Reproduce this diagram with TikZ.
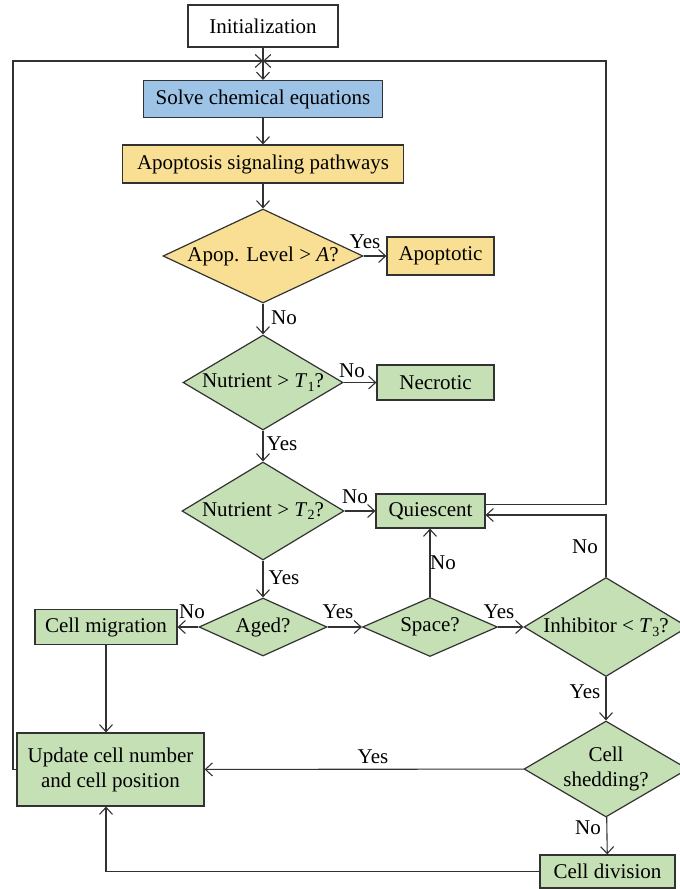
\documentclass[tikz,border=0pt]{standalone}
\usepackage{fontspec}
\setmainfont{Liberation Serif}
\usetikzlibrary{shapes.geometric,arrows.meta}
\definecolor{cblue}{RGB}{157,195,230}
\definecolor{cyellow}{RGB}{249,223,148}
\definecolor{cgreen}{RGB}{197,224,180}
\definecolor{cline}{RGB}{50,50,50}
\newcommand\Tsub[1]{\textit{T}\kern0.02em\raisebox{-0.4ex}{\fontsize{14}{14}\selectfont #1}}
\begin{document}
\begin{tikzpicture}[x=1pt,y=-1pt,
  font=\fontsize{21}{25}\selectfont,
  box/.style={draw=cline, line width=1.2pt, rectangle, inner sep=0pt, align=center},
  dia/.style={draw=cline, line width=1.2pt, diamond, inner sep=0pt, fill=cgreen},
  arr/.style={draw=cline, line width=1.1pt, -{Straight Barb[length=7pt,width=13pt]}},
  ln/.style={draw=cline, line width=1.1pt},
  lab/.style={inner sep=0pt}
]
\useasboundingbox (0,0) rectangle (680,889);

% nodes
\node[box, fill=white, minimum width=150pt, minimum height=42pt] (init) at (263,26) {Initialization};
\node[box, fill=cblue, minimum width=239pt, minimum height=37pt] (solve) at (263,99) {Solve chemical equations};
\node[box, fill=cyellow, minimum width=281pt, minimum height=38pt] (apopsig) at (263,164) {Apoptosis signaling pathways};
\node[dia, fill=cyellow, minimum width=200pt, minimum height=94pt, label={center:Apop. Level > \textit{A}?}] (d1) at (263,256) {};
\node[box, fill=cyellow, minimum width=107pt, minimum height=38pt] (apoptotic) at (440.5,256) {Apoptotic};
\node[dia, minimum width=160pt, minimum height=95pt, label={center:Nutrient > \Tsub{1}?}] (d2) at (263,382.5) {};
\node[box, fill=cgreen, minimum width=117pt, minimum height=35pt] (necrotic) at (435.5,382.5) {Necrotic};
\node[dia, minimum width=162pt, minimum height=98pt, label={center:Nutrient > \Tsub{2}?}] (d3) at (263,511) {};
\node[box, fill=cgreen, minimum width=109pt, minimum height=34pt] (quiescent) at (430.5,511) {Quiescent};
\node[dia, minimum width=128pt, minimum height=58pt, label={center:Aged?}] (aged) at (263,627) {};
\node[box, fill=cgreen, minimum width=142pt, minimum height=35pt] (migration) at (106,627) {Cell migration};
\node[dia, minimum width=135pt, minimum height=59pt, label={center:Space?}] (space) at (430,627) {};
\node[dia, minimum width=164pt, minimum height=99pt, label={center:Inhibitor < \Tsub{3}?}] (inhibitor) at (606,627) {};
\node[dia, minimum width=164pt, minimum height=96pt, label={[align=center]center:Cell\\shedding?}] (shedding) at (606,769) {};
\node[box, fill=cgreen, minimum width=187pt, minimum height=73pt] (update) at (110.5,769.5) {Update cell number\\and cell position};
\node[box, fill=cgreen, minimum width=135pt, minimum height=33pt] (division) at (607.5,871.5) {Cell division};

% coordinates
\coordinate (jn) at (263,61);
\coordinate (lc) at (13,61);
\coordinate (rc) at (606,61);

% connectors
\draw[ln] (init.south) -- (jn);
\draw[arr] (update.west) -- (update.west -| lc) -- (lc) -- (jn);
\draw[arr] ([yshift=6.3pt]quiescent.east) -- ([yshift=6.3pt]quiescent.east -| rc) -- (rc) -- (jn);
\draw[arr] (jn) -- (solve.north);
\draw[arr] (solve) -- (apopsig);
\draw[arr] (apopsig) -- (d1);
\draw[arr] (d1) -- (apoptotic);
\draw[arr] (d1) -- (d2);
\draw[arr] (d2) -- (necrotic);
\draw[arr] (d2) -- (d3);
\draw[arr] (d3) -- (quiescent);
\draw[arr] (d3) -- (aged);
\draw[arr] (aged) -- (migration);
\draw[arr] (aged) -- (space);
\draw[arr] (space) -- (inhibitor);
\draw[arr] (space.north) -- (space.north |- quiescent.south);
\draw[arr] (inhibitor.north) |- ([yshift=-4pt]quiescent.east);
\draw[arr] (inhibitor) -- (shedding);
\draw[arr] (shedding) -- (update);
\draw[arr] (shedding) -- (division);
\draw[arr] (migration.south) -- (migration.south |- update.north);
\draw[arr] (division.west) -| (migration.south |- update.south);

% labels
\node[lab] (l1) at (365,242) {Yes};
\node[lab] (l2) at (284,318) {No};
\node[lab] (l3) at (352,371) {No};
\node[lab] (l4) at (282,444) {Yes};
\node[lab] (l5) at (355,497) {No};
\node[lab] (l6) at (284,578) {Yes};
\node[lab] (l7) at (192,612) {No};
\node[lab] (l8) at (338,612) {Yes};
\node[lab] (l9) at (443,563) {No};
\node[lab] (l10) at (499,612) {Yes};
\node[lab] (l11) at (585,547) {No};
\node[lab] (l12) at (585,692) {Yes};
\node[lab] (l13) at (373,757) {Yes};
\node[lab] (l14) at (588,828) {No};
\end{tikzpicture}
\end{document}
